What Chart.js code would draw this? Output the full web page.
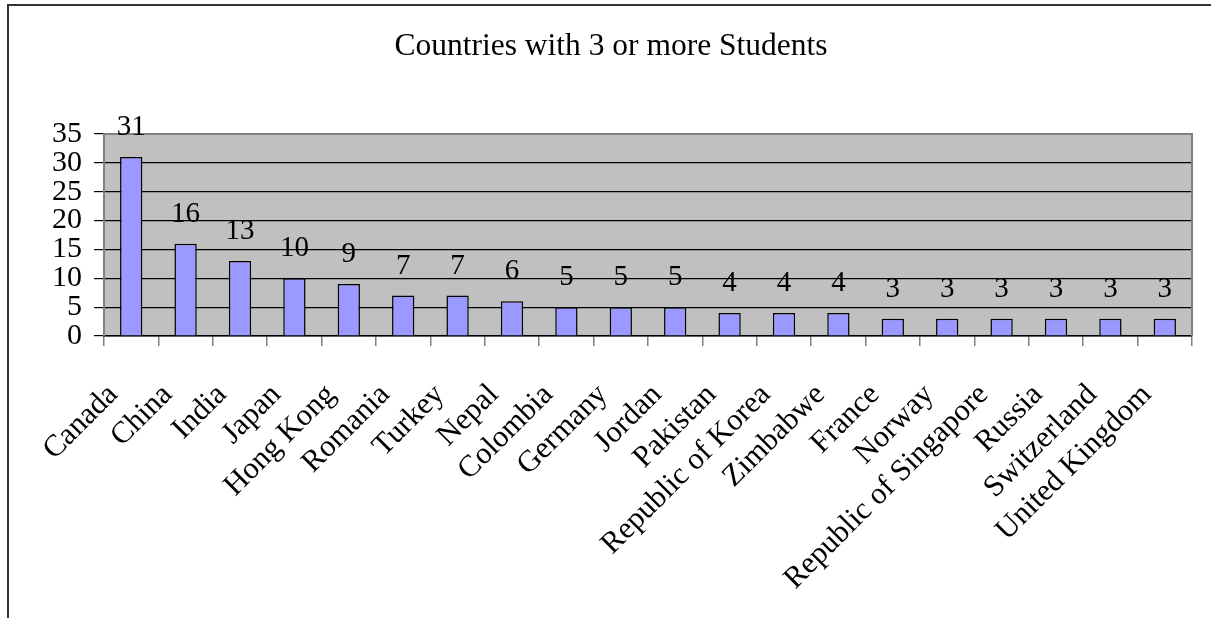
<!DOCTYPE html>
<html>
<head>
<meta charset="utf-8">
<script src="https://cdn.jsdelivr.net/npm/chart.js@4.4.0/dist/chart.umd.min.js"></script>
<style>
  html, body { margin: 0; padding: 0; background: #fff; }
  #wrap { width: 1211px; height: 618px; }
</style>
</head>
<body>
<div id="wrap"><canvas id="studentsChart" width="1211" height="618"></canvas></div>
<script>
// Chart data
const countries = ['Canada', 'China', 'India', 'Japan', 'Hong Kong', 'Romania', 'Turkey', 'Nepal',
  'Colombia', 'Germany', 'Jordan', 'Pakistan', 'Republic of Korea', 'Zimbabwe', 'France', 'Norway',
  'Republic of Singapore', 'Russia', 'Switzerland', 'United Kingdom'];
const students = [31, 16, 13, 10, 9, 7, 7, 6, 5, 5, 5, 4, 4, 4, 3, 3, 3, 3, 3, 3];
const yTickValues = [0, 5, 10, 15, 20, 25, 30, 35];
const chartTitle = 'Countries with 3 or more Students';

const SERIF = "'Liberation Serif', 'DejaVu Serif', serif";

// Background, outer frame, title and grey plot area
const backgroundPlugin = {
  id: 'background',
  beforeDraw(chart) {
    const { ctx, chartArea: a } = chart;
    ctx.save();
    ctx.fillStyle = '#fff';
    ctx.fillRect(0, 0, chart.width, chart.height);
    ctx.strokeStyle = '#333';
    ctx.lineWidth = 2;
    ctx.beginPath();
    ctx.moveTo(8, chart.height);
    ctx.lineTo(8, 5);
    ctx.lineTo(chart.width, 5);
    ctx.stroke();
    ctx.fillStyle = '#C0C0C0';
    ctx.fillRect(a.left, a.top, a.right - a.left, a.bottom - a.top);
    // title, centred on the whole frame
    ctx.fillStyle = '#000';
    ctx.font = '31.5px ' + SERIF;
    ctx.textAlign = 'center';
    ctx.textBaseline = 'middle';
    ctx.fillText(chartTitle, 611, 47);
    ctx.restore();
  },
  beforeDatasetsDraw(chart) {
    const { ctx, chartArea: a } = chart;
    ctx.save();
    ctx.strokeStyle = '#808080';
    ctx.lineWidth = 2;
    ctx.beginPath();
    ctx.moveTo(a.left, a.bottom);
    ctx.lineTo(a.left, a.top);
    ctx.lineTo(a.right, a.top);
    ctx.lineTo(a.right, a.bottom);
    ctx.stroke();
    ctx.restore();
  }
};

// Value labels above each bar
const valueLabelPlugin = {
  id: 'valueLabels',
  afterDatasetsDraw(chart) {
    const { ctx } = chart;
    const meta = chart.getDatasetMeta(0);
    ctx.save();
    ctx.font = '29px ' + SERIF;
    ctx.fillStyle = '#000';
    ctx.textAlign = 'center';
    ctx.textBaseline = 'alphabetic';
    meta.data.forEach((bar, i) => {
      ctx.fillText(String(students[i]), bar.x, bar.y - 22);
    });
    ctx.restore();
  }
};

const ctx = document.getElementById('studentsChart').getContext('2d');
const studentsChart = new Chart(ctx, {
  type: 'bar',
  data: {
    labels: countries,
    datasets: [{
      data: students,
      backgroundColor: '#9999FF',
      borderColor: '#000',
      borderWidth: 1.5,
      categoryPercentage: 1,
      barPercentage: 0.41
    }]
  },
  options: {
    responsive: false,
    animation: false,
    devicePixelRatio: 1,
    layout: { padding: { left: 0, right: 19, top: 134, bottom: 0 } },
    plugins: {
      legend: { display: false },
      tooltip: { enabled: false },
      title: { display: false }
    },
    scales: {
      x: {
        offset: true,
        grid: {
          offset: true,
          drawOnChartArea: false,
          drawTicks: true,
          tickLength: 10,
          color: '#808080',
          lineWidth: 1.5
        },
        border: { display: true, color: '#000', width: 1.5 },
        ticks: {
          autoSkip: false,
          maxRotation: 45,
          minRotation: 45,
          padding: 31,
          labelOffset: -18,
          color: '#000',
          font: { family: SERIF, size: 30.5 }
        },
        afterFit(scale) {
          scale.height = 282;
          scale.paddingLeft = 0;
          scale.paddingRight = 0;
        }
      },
      y: {
        min: 0,
        max: 35,
        afterBuildTicks(scale) { scale.ticks = yTickValues.map(v => ({ value: v })); },
        grid: {
          color: '#000',
          lineWidth: 1.2,
          drawTicks: true,
          tickLength: 10
        },
        border: { display: false },
        ticks: {
          autoSkip: false,
          padding: 12,
          color: '#000',
          font: { family: SERIF, size: 30 }
        },
        afterFit(scale) {
          scale.width = 104;
          scale.paddingTop = 0;
          scale.paddingBottom = 0;
        }
      }
    }
  },
  plugins: [backgroundPlugin, valueLabelPlugin]
});
</script>
</body>
</html>
